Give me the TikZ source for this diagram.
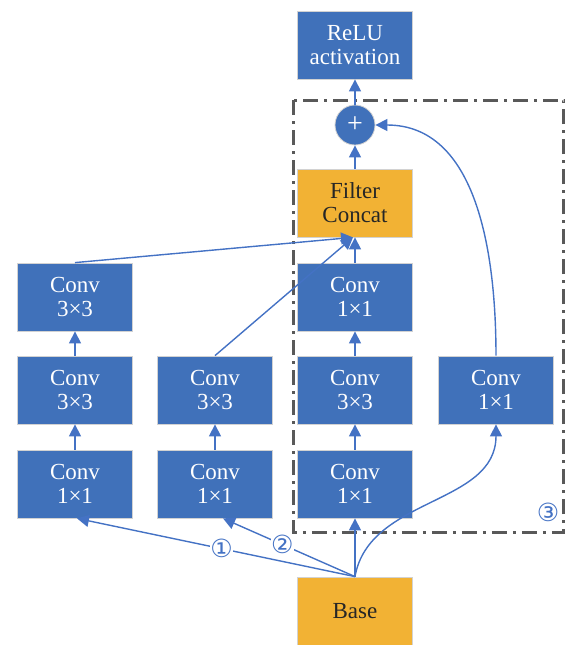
\documentclass[tikz,border=0pt]{standalone}
\usepackage{fontspec}
\setmainfont{Liberation Serif}
\newfontfamily\symfont{DejaVu Sans}
\usetikzlibrary{arrows.meta}
\definecolor{convblue}{RGB}{64,113,186}
\definecolor{lineblue}{RGB}{68,114,196}
\definecolor{baseorange}{RGB}{242,178,52}
\definecolor{dashgray}{RGB}{89,89,89}
\tikzset{
  conv/.style={rectangle,fill=convblue,draw=gray!35,line width=0.4pt,text=white,
    minimum width=57.5pt,minimum height=34pt,align=center,inner sep=1pt,
    font=\fontsize{11.5}{12}\selectfont},
  orangebox/.style={conv,fill=baseorange,text=black!85},
  flow/.style={draw=lineblue,line width=0.7pt,-{Triangle[length=6pt,width=6pt]}},
  numlabel/.style={fill=white,inner sep=0.3pt,text=lineblue,font=\symfont\fontsize{12.5}{12.5}\selectfont}
}
\begin{document}
\begin{tikzpicture}[x=0.5pt,y=-0.5pt]
\useasboundingbox (0,0) rectangle (568,645);
% dashed frame
\draw[dashgray,line width=1.5pt,dash pattern=on 7.5pt off 3pt on 1.5pt off 3pt] (294,100) rectangle (564,532);
\node[numlabel,fill=none] (n3) at (548,512) {③};
% top part
\node[conv] (relu) at (355,45) {ReLU\\activation};
\node[circle,fill=convblue,draw=gray!35,minimum size=20pt,inner sep=0pt,text=white,font=\fontsize{14}{14}\selectfont] (plus) at (355,125) {+};
\node[orangebox] (concat) at (355,203) {Filter\\Concat};
% branch 1
\node[conv] (c1c) at (75,297) {Conv\\3×3};
\node[conv] (c1b) at (75,390) {Conv\\3×3};
\node[conv] (c1a) at (75,484) {Conv\\1×1};
% branch 2
\node[conv] (c2b) at (215,390) {Conv\\3×3};
\node[conv] (c2a) at (215,484) {Conv\\1×1};
% branch 3
\node[conv] (c3c) at (355,297) {Conv\\1×1};
\node[conv] (c3b) at (355,390) {Conv\\3×3};
\node[conv] (c3a) at (355,484) {Conv\\1×1};
% shortcut
\node[conv] (c4a) at (496,390) {Conv\\1×1};
\node[orangebox] (base) at (355,611) {Base};
% connections
\draw[flow] (base.north) -- node[numlabel,pos=0.48] {①} ([xshift=1pt]c1a.south);
\draw[flow] (base.north) -- node[numlabel,pos=0.55] {②} ([xshift=4pt]c2a.south);
\draw[flow] (base.north) -- (c3a.south);
\draw[flow] (base.north) to[out=80,in=-90] (c4a.south);
\draw[flow] (c1a) -- (c1b);
\draw[flow] (c1b) -- (c1c);
\draw[flow] (c2a) -- (c2b);
\draw[flow] (c3a) -- (c3b);
\draw[flow] (c3b) -- (c3c);
\draw[flow] (c1c.north) -- ([xshift=-1pt]concat.south);
\draw[flow] (c2b.north) -- ([xshift=-1pt]concat.south);
\draw[flow] (c3c) -- (concat);
\draw[flow] (concat) -- (plus);
\draw[flow] (c4a.north) to[out=90,in=0] (plus.east);
\draw[flow] (plus) -- (relu);
\end{tikzpicture}
\end{document}
